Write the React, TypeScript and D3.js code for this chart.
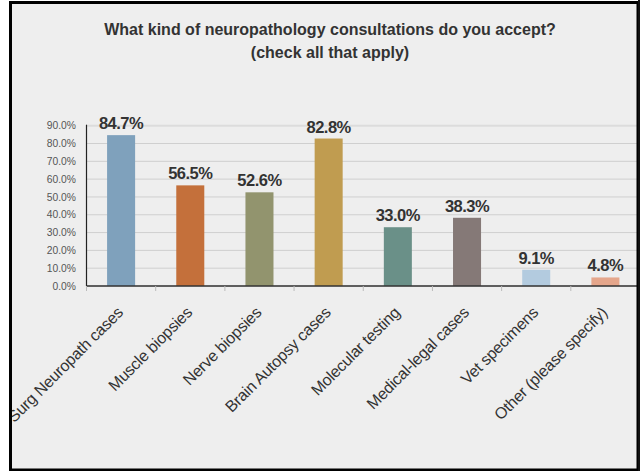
import React from "react";
import * as d3 from "d3";

const categories = [
  "Surg Neuropath cases",
  "Muscle biopsies",
  "Nerve biopsies",
  "Brain Autopsy cases",
  "Molecular testing",
  "Medical-legal cases",
  "Vet specimens",
  "Other (please specify)",
];
const values = [84.7, 56.5, 52.6, 82.8, 33.0, 38.3, 9.1, 4.8];
const barColors = [
  "#7fa1bc",
  "#c4703b",
  "#92946e",
  "#c09c50",
  "#6a9088",
  "#857977",
  "#b3cbdf",
  "#e5a68b",
];
const yTicks = [0, 10, 20, 30, 40, 50, 60, 70, 80, 90];
const titleLines = [
  "What kind of neuropathology consultations do you accept?",
  "(check all that apply)",
];

export default function App() {
  const W = 640;
  const H = 471;
  const left = 86.5;
  const right = 640;
  const yBottom = 286;
  const yTop = 125.7;

  const x = d3
    .scaleBand<string>()
    .domain(categories)
    .range([left, right])
    .paddingInner(0.595)
    .paddingOuter(0.2975);
  const band = d3.scaleBand<string>().domain(categories).range([left, right]);
  const y = d3.scaleLinear().domain([0, 90]).range([yBottom, yTop]);

  const font = "'Liberation Sans', Arial, sans-serif";

  return (
    <svg
      width={W}
      height={H}
      style={{ position: "absolute", left: 0, top: 0, display: "block" }}
    >
      <rect x={0} y={0} width={W} height={H} fill="#ffffff" />
      <rect x={10.5} y={2.5} width={627.5} height={467.5} fill="#eeeeee" />

      {/* gridlines */}
      {yTicks.map((t) => (
        <line
          key={"g" + t}
          x1={left}
          x2={right}
          y1={y(t)}
          y2={y(t)}
          stroke={t === 90 ? "#dcdcdc" : "#cfcfcf"}
          strokeWidth={t === 90 ? 2 : 1}
        />
      ))}

      {/* y tick labels */}
      {yTicks.map((t) => (
        <text
          key={"yl" + t}
          x={76}
          y={y(t)}
          dy="0.35em"
          textAnchor="end"
          fontFamily={font}
          fontSize={10.3}
          fill="#555555"
        >
          {t.toFixed(1) + "%"}
        </text>
      ))}

      {/* bars */}
      {categories.map((c, i) => (
        <rect
          key={"b" + c}
          x={x(c)}
          y={y(values[i])}
          width={x.bandwidth()}
          height={yBottom - y(values[i])}
          fill={barColors[i]}
        />
      ))}

      {/* value labels */}
      {categories.map((c, i) => (
        <text
          key={"v" + c}
          x={(x(c) as number) + x.bandwidth() / 2}
          y={y(values[i]) - 6}
          textAnchor="middle"
          fontFamily={font}
          fontWeight="bold"
          fontSize={16.5}
          letterSpacing={-0.5}
          fill="#333333"
        >
          {values[i].toFixed(1) + "%"}
        </text>
      ))}

      {/* axes */}
      <line x1={left} x2={left} y1={yTop - 1} y2={yBottom} stroke="#222" strokeWidth={1.2} />
      <line x1={left} x2={right} y1={yBottom} y2={yBottom} stroke="#333" strokeWidth={1.5} />
      {categories.map((c) => (
        <line
          key={"t" + c}
          x1={band(c) as number}
          x2={band(c) as number}
          y1={yBottom}
          y2={yBottom + 5}
          stroke="#bbbbbb"
          strokeWidth={1}
        />
      ))}

      {/* category labels */}
      {categories.map((c) => {
        const cx = (band(c) as number) + band.bandwidth() / 2;
        return (
          <text
            key={"c" + c}
            transform={`translate(${cx + 3},${313.5}) rotate(-45)`}
            textAnchor="end"
            fontFamily={font}
            fontSize={16}
            letterSpacing={-0.2}
            fill="#333333"
          >
            {c}
          </text>
        );
      })}

      {/* title */}
      {titleLines.map((t, i) => (
        <text
          key={"ti" + i}
          x={330}
          y={35 + i * 22.5}
          textAnchor="middle"
          fontFamily={font}
          fontWeight="bold"
          fontSize={16}
          fill="#333333"
        >
          {t}
        </text>
      ))}

      {/* frame */}
      <rect
        x={10.5}
        y={2.5}
        width={627.5}
        height={467.5}
        fill="none"
        stroke="#000000"
        strokeWidth={3}
      />
      <rect x={638} y={0} width={2} height={H} fill="#111" />
      <rect x={0} y={0} width={9} height={H} fill="#ffffff" />
    </svg>
  );
}
